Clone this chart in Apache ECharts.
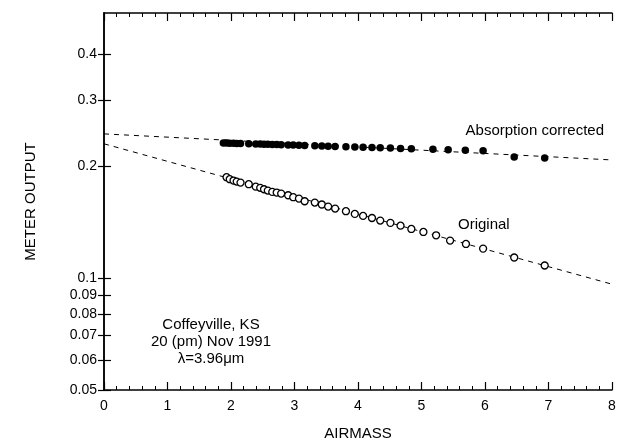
<!DOCTYPE html>
<html>
<head>
<meta charset="utf-8">
<script src="https://cdn.jsdelivr.net/npm/echarts@6/dist/echarts.min.js"></script>
<style>
  html, body { margin: 0; padding: 0; background: #fff; }
  #chart { width: 636px; height: 441px; }
</style>
</head>
<body>
<div id="chart"></div>
<script>
// absorption corrected measurements (filled circles)
const corrAirmass = [1.88, 1.93, 1.98, 2.04, 2.09, 2.15, 2.28, 2.39, 2.46, 2.52, 2.58, 2.65, 2.72, 2.79, 2.9, 2.98, 3.07, 3.16, 3.32, 3.43, 3.53, 3.64, 3.81, 3.95, 4.08, 4.22, 4.35, 4.51, 4.67, 4.84, 5.18, 5.42, 5.69, 5.97, 6.46, 6.94]
const corrValue = [0.2306, 0.2304, 0.2302, 0.2300, 0.2298, 0.2297, 0.2294, 0.2291, 0.2289, 0.2288, 0.2286, 0.2284, 0.2282, 0.2280, 0.2277, 0.2275, 0.2272, 0.2269, 0.2266, 0.2262, 0.2260, 0.2256, 0.2252, 0.2248, 0.2245, 0.2241, 0.2237, 0.2233, 0.2229, 0.2224, 0.2216, 0.2211, 0.2204, 0.2195, 0.2112, 0.2100]

// original measurements (open circles)
const origAirmass = [1.93, 1.98, 2.04, 2.09, 2.15, 2.28, 2.39, 2.46, 2.52, 2.58, 2.65, 2.72, 2.79, 2.9, 2.98, 3.07, 3.16, 3.32, 3.43, 3.53, 3.64, 3.81, 3.95, 4.08, 4.22, 4.35, 4.51, 4.67, 4.84, 5.03, 5.23, 5.45, 5.7, 5.97, 6.46, 6.94]
const origValue = [0.1865, 0.1842, 0.1827, 0.1815, 0.1804, 0.1786, 0.1759, 0.1746, 0.1731, 0.1717, 0.1703, 0.1696, 0.1685, 0.1668, 0.1648, 0.1634, 0.1607, 0.1594, 0.1575, 0.1555, 0.1536, 0.1511, 0.1486, 0.1468, 0.1449, 0.1426, 0.1406, 0.1382, 0.1354, 0.1329, 0.1302, 0.1260, 0.1234, 0.1199, 0.1135, 0.1080]

// dashed fit lines, end points at airmass 0 and 8
const fitAirmass = [0, 8]
const corrFit = [0.2438, 0.2075]
const origFit = [0.2293, 0.0962]

const yTicks = [0.05, 0.06, 0.07, 0.08, 0.09, 0.1, 0.2, 0.3, 0.4]

const pairs = (xs, ys) => xs.map((x, i) => [x, ys[i]])

let myChart = echarts.init(document.getElementById('chart'))

const font = 'Liberation Sans, Arial, Helvetica, sans-serif'
const axisLine = { show: true, lineStyle: { color: '#000', width: 1.5 } }
const xTick = { inside: true, length: 8, lineStyle: { color: '#000', width: 1.2 } }
const xMinor = { show: true, splitNumber: 5, length: 4, lineStyle: { color: '#000', width: 1 } }

myChart.setOption({
  animation: false,
  grid: { left: 104, right: 24, top: 13, bottom: 51, outerBoundsMode: 'none' },
  xAxis: [
    {
      type: 'value', min: 0, max: 8, interval: 1,
      name: 'AIRMASS', nameLocation: 'middle', nameGap: 36,
      nameTextStyle: { color: '#000', fontSize: 15, fontFamily: font },
      axisLine: axisLine,
      axisTick: xTick,
      minorTick: xMinor,
      axisLabel: { color: '#000', fontSize: 14, fontFamily: font, margin: 9 },
      splitLine: { show: false },
    },
    {
      type: 'value', min: 0, max: 8, interval: 1, position: 'top',
      axisLine: axisLine,
      axisTick: xTick,
      minorTick: xMinor,
      axisLabel: { show: false },
      splitLine: { show: false },
    },
  ],
  yAxis: [
    {
      type: 'log', logBase: 10, min: 0.05, max: 0.515,
      name: 'METER OUTPUT', nameLocation: 'middle', nameGap: 66,
      nameTextStyle: { color: '#000', fontSize: 15, fontFamily: font },
      axisLine: axisLine,
      axisTick: { inside: true, length: 7, customValues: yTicks, lineStyle: { color: '#000', width: 1.2 } },
      axisLabel: {
        color: '#000', fontSize: 14, fontFamily: font, margin: 7,
        customValues: yTicks,
        formatter: (v) => String(+(+v).toFixed(2)),
      },
      splitLine: { show: false },
    },
    {
      type: 'log', logBase: 10, min: 0.05, max: 0.515, position: 'right',
      axisLine: axisLine,
      axisTick: { inside: true, length: 6, customValues: yTicks, lineStyle: { color: '#000', width: 1.2 } },
      axisLabel: { show: false },
      splitLine: { show: false },
    },
  ],
  series: [
    {
      type: 'line', data: pairs(fitAirmass, corrFit), symbol: 'none',
      lineStyle: { color: '#000', width: 1, type: [5, 5] }, z: 1,
    },
    {
      type: 'line', data: pairs(fitAirmass, origFit), symbol: 'none',
      lineStyle: { color: '#000', width: 1, type: [5, 5] }, z: 1,
    },
    {
      type: 'scatter', data: pairs(corrAirmass, corrValue), symbol: 'circle', symbolSize: 7.5,
      itemStyle: { color: '#000', opacity: 1 }, z: 3,
    },
    {
      type: 'scatter', data: pairs(origAirmass, origValue), symbol: 'circle', symbolSize: 7,
      itemStyle: { color: '#fff', borderColor: '#000', borderWidth: 1.3, opacity: 1 }, z: 3,
    },
  ],
  graphic: [
    { type: 'text', x: 604, y: 123, style: { text: 'Absorption corrected', fill: '#000', font: '15px ' + font, align: 'right' } },
    { type: 'text', x: 458, y: 217, style: { text: 'Original', fill: '#000', font: '15px ' + font } },
    {
      type: 'text', x: 211, y: 316,
      style: { text: 'Coffeyville, KS\n20 (pm) Nov 1991\nλ=3.96μm', fill: '#000', font: '15px ' + font, align: 'center', lineHeight: 17 },
    },
  ],
})
</script>
</body>
</html>
